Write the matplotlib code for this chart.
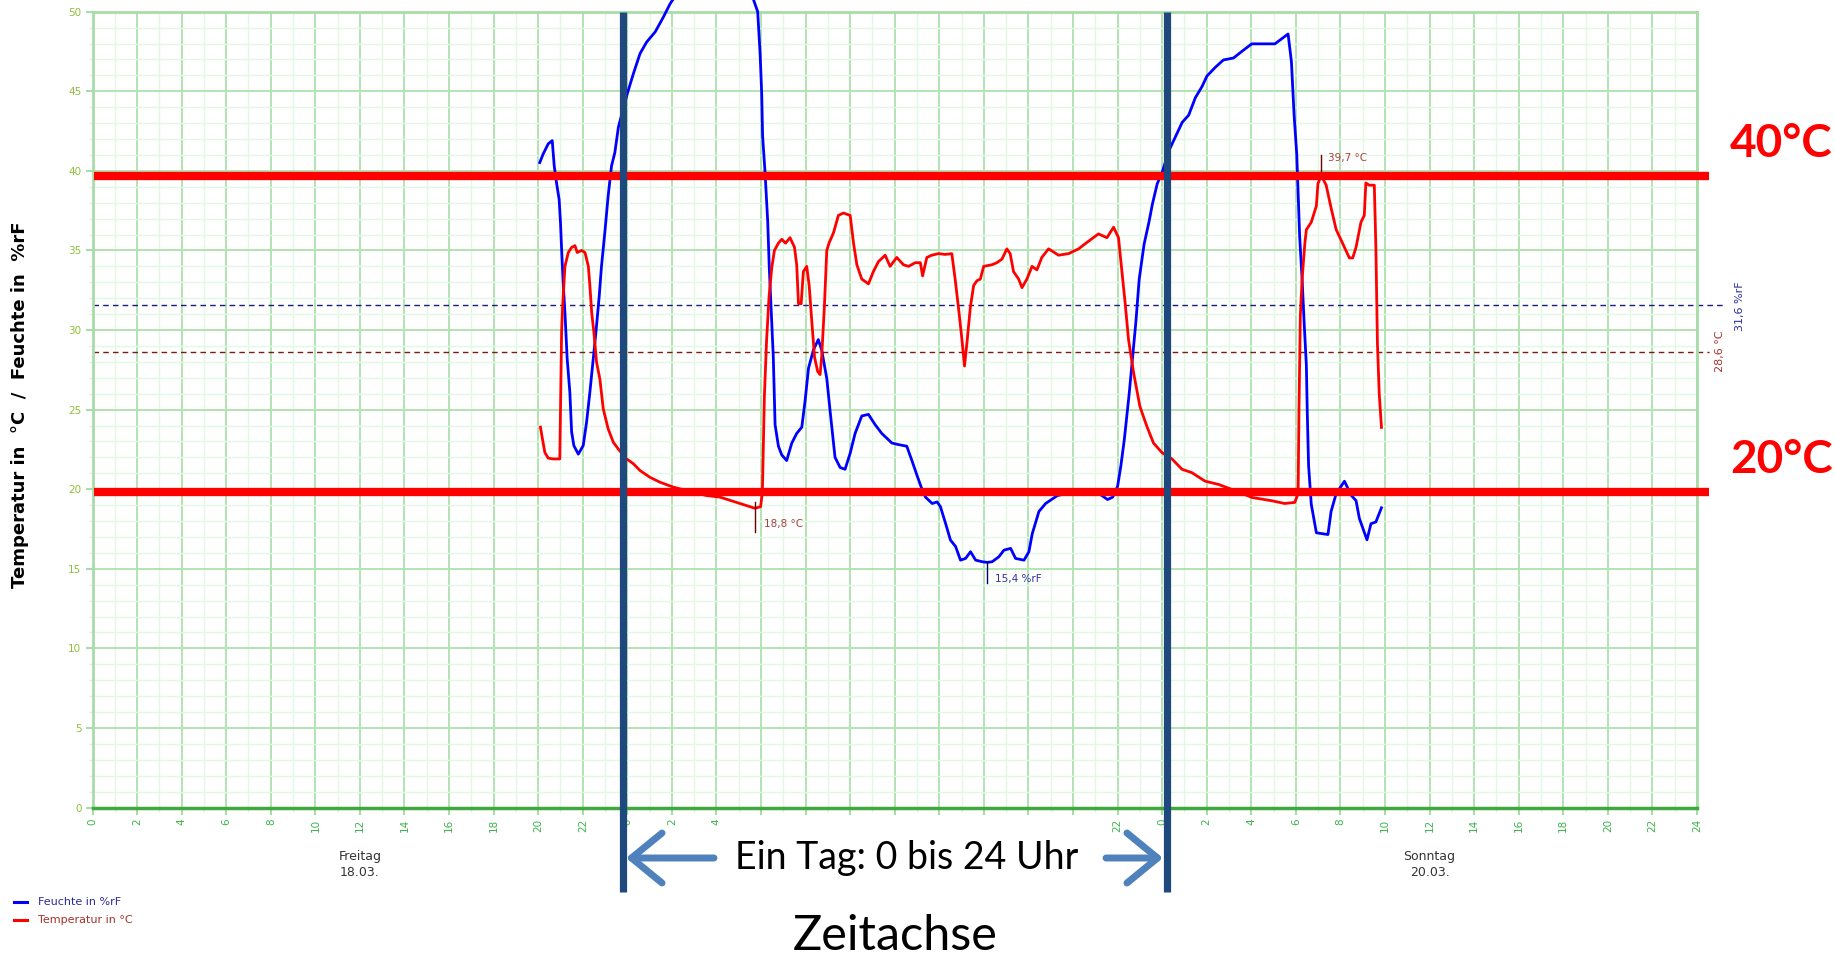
import matplotlib
matplotlib.use('Agg')
import matplotlib.pyplot as plt
from matplotlib.patches import Rectangle, FancyArrowPatch
from matplotlib.lines import Line2D

# ---------------- data ----------------
hum_hours = [20.07, 20.22, 20.45, 20.63, 20.72, 20.82, 20.94, 21.0, 21.05, 21.12, 21.2, 21.3, 21.42, 21.5,
             21.6, 21.8, 22.02, 22.17, 22.32, 22.44, 22.59, 22.74, 22.84, 22.99, 23.14, 23.29, 23.44, 23.6,
             24.0, 24.27, 24.57, 24.87, 25.25, 25.62, 25.92, 26.3, 27.0, 28.0, 29.0, 29.6, 29.85,
             29.96, 30.03, 30.07, 30.18, 30.3, 30.37, 30.48, 30.55, 30.63, 30.78, 30.93, 31.15, 31.38,
             31.6, 31.83, 31.98, 32.13, 32.35, 32.57, 32.72, 32.95, 33.1, 33.32, 33.55, 33.77, 34.0,
             34.22, 34.52, 34.82, 35.12, 35.42, 35.87, 36.17, 36.54, 36.77, 36.99, 37.22, 37.38, 37.68,
             37.9, 38.05, 38.28, 38.5, 38.73, 38.95, 39.18, 39.4, 39.63, 39.93, 40.15, 40.37, 40.67,
             40.9, 41.2, 41.42, 41.8, 42.02, 42.17, 42.47, 42.77, 43.3, 43.95, 44.54, 45.2, 45.55,
             45.78, 46.0, 46.15, 46.3, 46.52, 46.67, 46.82, 46.97, 47.19, 47.41, 47.56, 47.78, 48.0,
             48.3, 48.6, 48.9, 49.19, 49.49, 49.79, 50.01, 50.38, 50.75, 51.2, 51.57, 52.02, 53.06,
             53.65, 53.8, 53.92, 54.04, 54.1, 54.17, 54.28, 54.37, 54.47, 54.51, 54.57, 54.69, 54.92,
             55.44, 55.58, 55.81, 56.18, 56.48, 56.7, 56.85, 57.19, 57.37, 57.59, 57.84]
hum_values = [40.52, 41.05, 41.7, 41.9, 40.3, 39.27, 38.2, 36.76, 35.1, 33.0, 31.1, 28.2, 26.1, 23.6,
              22.74, 22.2, 22.74, 24.2, 26.1, 27.76, 29.85, 32.15, 34.0, 36.13, 38.43, 40.3, 41.15, 42.76,
              44.86, 46.1, 47.37, 48.1, 48.73, 49.67, 50.5, 51.3, 52.5, 53.0, 52.2, 51.0, 50.0,
              47.3, 44.85, 42.2, 39.9, 36.8, 33.9, 30.5, 28.3, 24.05, 22.7, 22.15, 21.8, 22.9,
              23.5, 23.9, 25.6, 27.6, 28.75, 29.4, 28.75, 26.96, 24.9, 22.0, 21.36, 21.25, 22.26,
              23.5, 24.6, 24.7, 24.05, 23.5, 22.9, 22.8, 22.7, 21.8, 20.9, 20.0, 19.5, 19.1,
              19.2, 18.9, 17.85, 16.8, 16.4, 15.54, 15.65, 16.07, 15.54, 15.44, 15.4, 15.44, 15.75,
              16.17, 16.28, 15.65, 15.54, 16.07, 17.2, 18.6, 19.1, 19.6, 19.79, 19.79, 19.69, 19.35,
              19.5, 20.18, 21.5, 23.1, 26.0, 28.25, 30.5, 33.2, 35.4, 36.8, 37.9, 39.2, 39.9,
              41.26, 42.15, 43.05, 43.5, 44.6, 45.3, 45.96, 46.5, 46.97, 47.09, 47.5, 47.98, 47.98,
              48.6, 46.86, 43.5, 41.03, 38.56, 35.87, 33.18, 30.49, 27.8, 24.9, 21.5, 19.06, 17.26,
              17.15, 18.6, 19.73, 20.5, 19.62, 19.28, 18.16, 16.82, 17.83, 17.94, 18.83]

temp_hours = [20.1, 20.19, 20.3, 20.45, 20.67, 20.97, 21.0, 21.05, 21.09, 21.2, 21.35, 21.5, 21.65, 21.75,
              21.95, 22.1, 22.25, 22.32, 22.4, 22.5, 22.62, 22.77, 22.92, 23.14, 23.37, 23.59, 23.97,
              24.27, 24.57, 25.01, 25.46, 26.06, 26.96, 27.56, 28.16, 28.98, 29.28, 29.73, 29.98, 30.06,
              30.15, 30.25, 30.36, 30.48, 30.6, 30.78, 30.93, 31.1, 31.3, 31.5, 31.6, 31.68, 31.8, 31.9,
              32.05, 32.16, 32.28, 32.4, 32.54, 32.65, 32.72, 32.84, 32.95, 33.05, 33.25, 33.47, 33.7,
              34.0, 34.15, 34.3, 34.52, 34.82, 35.04, 35.27, 35.57, 35.79, 36.09, 36.39, 36.62, 36.92,
              37.15, 37.25, 37.44, 37.66, 37.96, 38.26, 38.56, 38.71, 38.86, 39.0, 39.13, 39.24, 39.39,
              39.54, 39.69, 39.84, 39.99, 40.36, 40.58, 40.81, 41.03, 41.18, 41.33, 41.56, 41.71, 41.93,
              42.16, 42.38, 42.6, 42.9, 43.13, 43.35, 43.8, 44.25, 44.62, 45.14, 45.52, 45.82, 46.04,
              46.19, 46.34, 46.49, 46.72, 47.0, 47.31, 47.61, 47.99, 48.44, 48.89, 49.33, 49.93, 50.53,
              51.28, 52.03, 52.93, 53.5, 53.95, 54.1, 54.14, 54.2, 54.28, 54.4, 54.47, 54.69, 54.92,
              54.99, 55.14, 55.36, 55.58, 55.81, 56.03, 56.25, 56.4, 56.55, 56.7, 56.92, 57.07, 57.14,
              57.29, 57.52, 57.59, 57.66, 57.74, 57.84]
temp_values = [23.9, 23.16, 22.3, 21.95, 21.9, 21.9, 25.0, 29.85, 31.3, 34.0, 34.87, 35.19, 35.3, 34.87,
               35.0, 34.87, 34.0, 32.78, 31.1, 29.85, 27.97, 26.9, 25.04, 23.79, 22.95, 22.53, 21.9,
               21.6, 21.17, 20.75, 20.44, 20.13, 19.8, 19.6, 19.5, 19.13, 19.0, 18.8, 18.9, 19.8,
               25.84, 29.4, 32.1, 33.9, 35.0, 35.46, 35.7, 35.46, 35.8, 35.2, 34.1, 31.65, 31.65, 33.67,
               34.0, 32.8, 30.5, 28.3, 27.4, 27.2, 28.3, 31.4, 35.0, 35.46, 36.1, 37.2, 37.35,
               37.2, 35.46, 34.1, 33.2, 32.9, 33.67, 34.3, 34.7, 34.0, 34.56, 34.1, 34.0, 34.23,
               34.23, 33.4, 34.56, 34.7, 34.8, 34.75, 34.8, 33.2, 31.4, 29.6, 27.74, 29.2, 31.4,
               32.8, 33.1, 33.2, 34.0, 34.1, 34.23, 34.45, 35.1, 34.8, 33.67, 33.2, 32.66, 33.2,
               34.0, 33.78, 34.56, 35.1, 34.9, 34.7, 34.8, 35.1, 35.5, 36.04, 35.8, 36.46, 35.8,
               33.75, 31.67, 29.4, 27.3, 25.2, 23.96, 22.9, 22.3, 21.9, 21.25, 21.04, 20.5, 20.3,
               19.9, 19.48, 19.27, 19.1, 19.17, 19.73, 25.1, 30.9, 33.2, 35.4, 36.3, 36.77, 37.8,
               39.2, 39.7, 39.1, 37.67, 36.3, 35.65, 34.98, 34.53, 34.53, 35.2, 36.77, 37.2, 39.24,
               39.1, 39.1, 35.2, 29.15, 26.0, 23.88]

x_tick_hours = list(range(0, 73, 2))
x_tick_labels = ['0', '2', '4', '6', '8', '10', '12', '14', '16', '18', '20', '22',
                 '0', '2', '4', '6', '8', '10', '12', '14', '16', '18', '20', '22',
                 '0', '2', '4', '6', '8', '10', '12', '14', '16', '18', '20', '22', '24']
y_ticks = [0, 5, 10, 15, 20, 25, 30, 35, 40, 45, 50]
# visible day captions (the Saturday caption is covered by the overlay in the reference)
day_centers = [12, 60]
day_labels = ['Freitag\n18.03.', 'Sonntag\n20.03.']

temp_mean = 28.6
hum_mean = 31.6
temp_max_at = (55.14, 39.7)
temp_min_at = (29.73, 18.8)
hum_min_at = (40.15, 15.4)
limit_values = [39.7, 19.8]
limit_labels = ['40°C', '20°C']
day_marks = [23.8, 48.2]

# ---------------- figure ----------------
W, H = 1835, 957
fig = plt.figure(figsize=(W / 100, H / 100), dpi=100)
fig.patch.set_facecolor('white')

def fx(px):
    return px / W

def fy(py):
    return 1 - py / H

ax_l, ax_r, ax_t, ax_b = 92.5, 1697, 11.7, 807.5
ax = fig.add_axes([fx(ax_l), fy(ax_b), (ax_r - ax_l) / W, (ax_b - ax_t) / H])
ax.set_xlim(0, 72)
ax.set_ylim(0, 50)
ax.set_axisbelow(True)

ax.set_xticks(x_tick_hours)
ax.set_xticklabels(x_tick_labels, rotation=90, fontsize=7.5, color='#3cb44b')
ax.set_xticks(range(0, 73), minor=True)
ax.set_yticks(y_ticks)
ax.set_yticklabels([str(v) for v in y_ticks], fontsize=7.5, color='#8fbf3a')
ax.set_yticks(range(0, 51), minor=True)
ax.tick_params(axis='both', which='major', length=5, color='#a8dca8', width=1.5, pad=3)
ax.tick_params(axis='both', which='minor', length=3, color='#d8f2d8', width=1)
ax.grid(which='major', color='#b2e3b2', lw=1.4)
ax.grid(which='minor', color='#e3f8e3', lw=1.0)

for side in ['left', 'top', 'right']:
    ax.spines[side].set_color('#a8dca8')
    ax.spines[side].set_linewidth(2)
ax.spines['bottom'].set_color('#3fa83f')
ax.spines['bottom'].set_linewidth(2.5)

# mean lines
ax.axhline(hum_mean, xmin=0, xmax=1.018, color='#1a1a7a', lw=1, ls=(0, (4, 3)), clip_on=False, zorder=2)
ax.axhline(temp_mean, xmin=0, xmax=1.0075, color='#7a1a1a', lw=1, ls=(0, (4, 3)), clip_on=False, zorder=2)
ax.text(73.95, hum_mean - 0.1, '31,6 %rF', rotation=90, ha='center', va='center', fontsize=8, color='#2b2ba0',
        clip_on=False)
ax.text(73.05, temp_mean + 0.05, '28,6 °C', rotation=90, ha='center', va='center', fontsize=8,
        color='#a83030', clip_on=False)

# curves
ax.plot(hum_hours, hum_values, color='#0000ff', lw=2, clip_on=False, zorder=3)
ax.plot(temp_hours, temp_values, color='#ff0000', lw=2, clip_on=False, zorder=3)

# min / max markers
ax.plot([temp_max_at[0]] * 2, [temp_max_at[1], 41.0], color='#6b0000', lw=1, zorder=3)
ax.text(temp_max_at[0] + 0.3, 40.8, '39,7 °C', fontsize=7.5, color='#a84040', va='center', ha='left')
ax.plot([temp_min_at[0]] * 2, [19.2, 17.3], color='#6b0000', lw=1, zorder=3)
ax.text(temp_min_at[0] + 0.4, 17.8, '18,8 °C', fontsize=7.5, color='#a84040', va='center', ha='left')
ax.plot([hum_min_at[0]] * 2, [hum_min_at[1], 14.1], color='#00006b', lw=1, zorder=3)
ax.text(hum_min_at[0] + 0.35, 14.35, '15,4 %rF', fontsize=7.5, color='#3030a0', va='center', ha='left')

# thick red limit lines
for v in limit_values:
    ax.axhline(v, xmin=0.001, xmax=1.0075, color='#ff0000', lw=6, clip_on=False, zorder=5,
               solid_capstyle='butt')

# dark day marker lines
for h in day_marks:
    ax.axvline(h, ymin=-0.106, ymax=1.0, color='#1f497d', lw=5.2, clip_on=False, zorder=6,
               solid_capstyle='butt')

# day labels
for c, lab in zip(day_centers, day_labels):
    ax.text(c, -3.6, lab, ha='center', va='center', fontsize=9, color='#333333', linespacing=1.3,
            clip_on=False)

# y label
fig.text(fx(20), fy(405), 'Temperatur in  °C  /  Feuchte in  %rF', rotation=90, ha='center', va='center',
         fontsize=13, fontweight='bold', color='black')

# legend
fig.add_artist(Line2D([fx(14), fx(27)], [fy(902), fy(902)], color='#0000ff', lw=2.2))
fig.add_artist(Line2D([fx(14), fx(27)], [fy(920), fy(920)], color='#ff0000', lw=2.2))
fig.text(fx(38), fy(902), 'Feuchte in %rF', fontsize=8, color='#2a2a9a', va='center', ha='left')
fig.text(fx(38), fy(920), 'Temperatur in °C', fontsize=8, color='#a8302a', va='center', ha='left')

# white cover box (overlay)
fig.add_artist(Rectangle((fx(718), fy(905)), (1102 - 718) / W, (905 - 816) / H, transform=fig.transFigure,
                         facecolor='white', edgecolor='none', zorder=8))

# arrows and overlay texts
arrow_kw = dict(arrowstyle='->, head_length=0.55, head_width=0.45', color='#4f81bd', lw=5,
                mutation_scale=40, transform=fig.transFigure, zorder=9, capstyle='round')
fig.add_artist(FancyArrowPatch((fx(714), fy(858)), (fx(626), fy(858)), shrinkA=0, shrinkB=0, **arrow_kw))
fig.add_artist(FancyArrowPatch((fx(1106), fy(858)), (fx(1163), fy(858)), shrinkA=0, shrinkB=0, **arrow_kw))

fig.text(fx(907), fy(858), 'Ein Tag: 0 bis 24 Uhr', fontsize=27, family='Lato', ha='center', va='center',
         color='black', zorder=10)
fig.text(fx(895), fy(936), 'Zeitachse', fontsize=35, family='Lato', ha='center', va='center',
         color='black', zorder=10)

for v, lab in zip(limit_values, limit_labels):
    yp = ax_b - (ax_b - ax_t) * v / 50
    fig.text(fx(1730), fy(yp - 32), lab, fontsize=33, family='Lato', fontweight='bold', color='#ff0000',
             ha='left', va='center')

fig.savefig('out.png', dpi=100, facecolor='white')
